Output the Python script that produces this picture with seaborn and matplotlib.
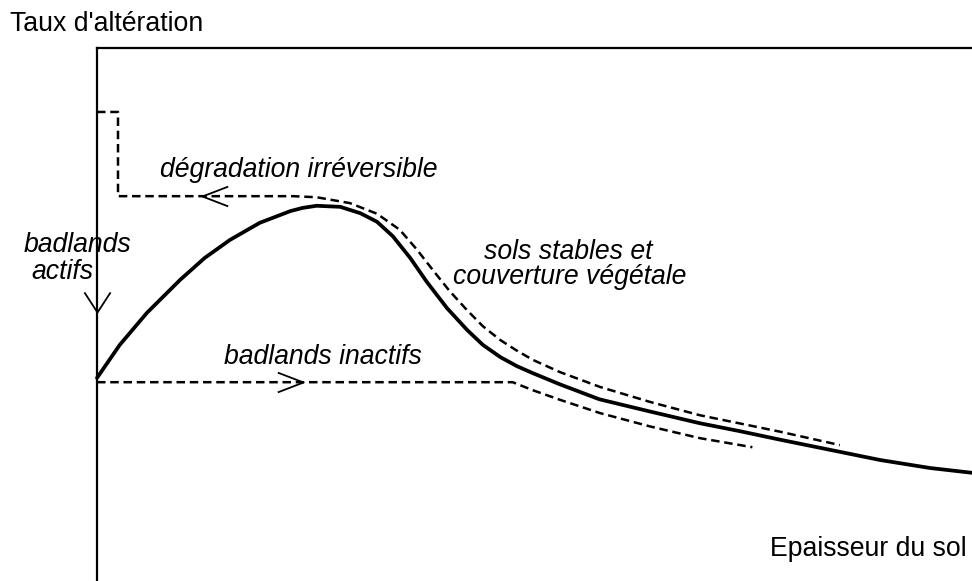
import numpy as np
import pandas as pd
import matplotlib
matplotlib.use("Agg")
import matplotlib.pyplot as plt
from matplotlib.path import Path
import seaborn as sns

# ---- data (arbitrary units: x = épaisseur du sol, y = taux d'altération) ----
curve_x = [0, 2.6, 5.7, 9.5, 12.3, 15.2, 18.6, 22.1, 23.5, 25.1, 27.8, 30.1, 32.0,
           33.8, 35.8, 37.7, 40.0, 42.3, 44.1, 46.1, 48.0, 49.8, 52.9, 57.4,
           63.2, 68.9, 73.5, 78.1, 83.8, 89.5, 95.2, 100]
curve_y = [38.1, 44.3, 50.3, 56.5, 60.6, 64.0, 67.2, 69.4, 70.0, 70.4, 70.2, 69.0, 67.4,
           64.7, 60.6, 56.1, 51.2, 47.1, 44.3, 42.0, 40.3, 39.0, 36.9, 34.1,
           31.8, 29.6, 28.1, 26.5, 24.6, 22.7, 21.2, 20.3]

degr_x = [0, 2.4, 2.4, 22.4, 25.1, 28.9, 32.0, 34.6, 36.6, 38.4, 40.3, 42.3, 44.1,
          46.1, 48.0, 49.8, 52.9, 57.5, 63.2, 68.9, 78.1, 84.9]
degr_y = [88.0, 88.0, 72.2, 72.2, 72.0, 70.9, 68.9, 65.9, 62.1, 58.3, 54.4, 50.8, 47.8,
          45.2, 43.2, 41.5, 39.2, 36.4, 33.6, 31.1, 28.0, 25.5]

inact_x = [0, 47.5, 49.8, 52.9, 57.5, 63.2, 68.9, 74.9]
inact_y = [37.3, 37.3, 35.8, 34.0, 31.5, 29.0, 26.8, 25.1]

# arrow heads (tip positions)
arrow_left = (12.0, 72.2)    # on "dégradation irréversible"
arrow_right = (23.5, 37.3)   # on "badlands inactifs"
arrow_down = (0.0, 50.5)     # "badlands actifs"

labels = {
    "y": "Taux d'altération",
    "x": "Epaisseur du sol",
    "degr": "dégradation irréversible",
    "act1": "badlands",
    "act2": "actifs",
    "inact": "badlands inactifs",
    "stab1": "sols stables et",
    "stab2": "couverture végétale",
}

sns.set_style("white")
plt.rcParams["font.family"] = ["Liberation Sans", "DejaVu Sans"]

W, H = 972, 581
fig = plt.figure(figsize=(W / 100, H / 100), dpi=100)
ax = fig.add_axes([97 / W, 0, 875 / W, 533 / H])
ax.set_xlim(0, 100)
ax.set_ylim(0, 100)
ax.set_xticks([])
ax.set_yticks([])
for s in ["bottom", "right"]:
    ax.spines[s].set_visible(False)
for s in ["top", "left"]:
    ax.spines[s].set_visible(True)
    ax.spines[s].set_color("black")
    ax.spines[s].set_linewidth(1.6)

dash = (0, (3.4, 1.9))

df_curve = pd.DataFrame({"x": curve_x, "y": curve_y})
df_degr = pd.DataFrame({"x": degr_x, "y": degr_y})
df_inact = pd.DataFrame({"x": inact_x, "y": inact_y})

sns.lineplot(data=df_curve, x="x", y="y", sort=False, estimator=None,
             color="black", linewidth=2.7, ax=ax, clip_on=False,
             solid_joinstyle="round")
sns.lineplot(data=df_degr, x="x", y="y", sort=False, estimator=None,
             color="black", linewidth=1.8, linestyle=dash, ax=ax, clip_on=False)
sns.lineplot(data=df_inact, x="x", y="y", sort=False, estimator=None,
             color="black", linewidth=1.8, linestyle=dash, ax=ax, clip_on=False)
ax.set_xlabel("")
ax.set_ylabel("")


def head(verts):
    return Path(verts, [Path.MOVETO, Path.LINETO, Path.LINETO])


mk_left = head([(2.6, 1.0), (0, 0), (2.6, -1.0)])
mk_right = head([(-2.6, 1.0), (0, 0), (-2.6, -1.0)])
mk_down = head([(-1.3, 2.0), (0, 0), (1.3, 2.0)])

for (px, py), mk, ms in [(arrow_left, mk_left, 37), (arrow_right, mk_right, 37),
                         (arrow_down, mk_down, 29)]:
    ax.plot([px], [py], marker=mk, markersize=ms, markerfacecolor="none",
            markeredgecolor="black", markeredgewidth=1.3, linestyle="none",
            clip_on=False)

fs = 19.2


def ftext(x, y, s, italic=False, ha="left"):
    fig.text(x / W, 1 - y / H, s, fontsize=fs, ha=ha, va="center",
             style="italic" if italic else "normal", color="black")


ftext(10, 24, labels["y"])
ftext(770, 549, labels["x"])
ftext(160, 170, labels["degr"], italic=True)
ftext(24, 245, labels["act1"], italic=True)
ftext(31, 272, labels["act2"], italic=True)
ftext(224, 357, labels["inact"], italic=True)
ftext(568, 252, labels["stab1"], italic=True, ha="center")
ftext(570, 277, labels["stab2"], italic=True, ha="center")

fig.savefig("out.png", dpi=100)
